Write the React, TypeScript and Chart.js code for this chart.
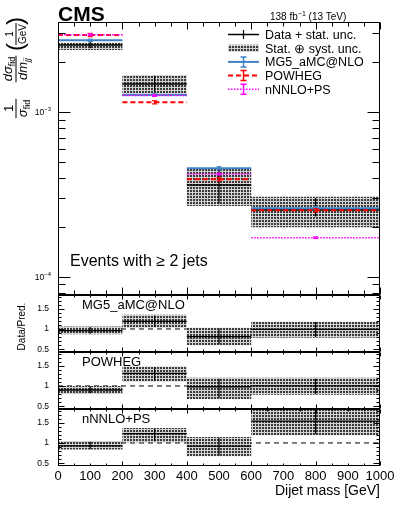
import React, { useEffect, useRef } from 'react';
import { Chart, registerables } from 'chart.js';

Chart.register(...registerables);

// ---------------- data ----------------
const binEdges = [0, 200, 400, 600, 1000];
const binCenters = [100, 300, 500, 800];

const mainYMin = 7.74e-5;
const mainYMax = 3.52e-3;
const mainDecadeLabels = [1e-4, 1e-3];
const ratioMin = 0.43;
const ratioMax = 1.84;
const ratioRefValue = 1;

const dataXsec = [2.55e-3, 1.479e-3, 3.6e-4, 2.54e-4];
const dataStatLow = [2.44e-3, 1.32e-3, 2.78e-4, 2.32e-4];
const dataStatHigh = [2.68e-3, 1.66e-3, 4.65e-4, 3.0e-4];
const totalUncLow = [2.378e-3, 1.25e-3, 2.69e-4, 1.995e-4];
const totalUncHigh = [2.636e-3, 1.677e-3, 4.57e-4, 3.06e-4];

const mg5Xsec = [2.725e-3, 1.268e-3, 4.55e-4, 2.6e-4];
const mg5Low = [2.68e-3, 1.25e-3, 4.46e-4, 2.55e-4];
const mg5High = [2.77e-3, 1.29e-3, 4.65e-4, 2.66e-4];
const powhegXsec = [2.935e-3, 1.145e-3, 3.9e-4, 2.53e-4];
const powhegLow = [2.87e-3, 1.12e-3, 3.81e-4, 2.47e-4];
const powhegHigh = [3.0e-3, 1.17e-3, 3.99e-4, 2.59e-4];
const nnloXsec = [2.95e-3, 1.259e-3, 4.2e-4, 1.725e-4];
const nnloLow = [2.92e-3, 1.245e-3, 4.15e-4, 1.705e-4];
const nnloHigh = [2.98e-3, 1.273e-3, 4.25e-4, 1.745e-4];

const ratioMg5 = [0.96, 1.19, 0.81, 0.99];
const ratioMg5BandLow = [0.87, 1.03, 0.6, 0.78];
const ratioMg5BandHigh = [1.06, 1.35, 1.03, 1.18];
const ratioMg5StatLow = [0.88, 1.05, 0.62, 0.8];
const ratioMg5StatHigh = [1.05, 1.33, 1.01, 1.17];

const ratioPowheg = [0.9, 1.31, 0.98, 1.0];
const ratioPowhegBandLow = [0.8, 1.11, 0.68, 0.78];
const ratioPowhegBandHigh = [1.0, 1.48, 1.2, 1.2];
const ratioPowhegStatLow = [0.82, 1.13, 0.7, 0.8];
const ratioPowhegStatHigh = [0.99, 1.46, 1.18, 1.18];

const ratioNnlo = [0.93, 1.23, 0.92, 1.54];
const ratioNnloBandLow = [0.84, 1.02, 0.67, 1.19];
const ratioNnloBandHigh = [1.05, 1.37, 1.15, 1.86];
const ratioNnloStatLow = [0.85, 1.04, 0.69, 1.22];
const ratioNnloStatHigh = [1.03, 1.35, 1.13, 1.84];

const legendLabels = ['Data + stat. unc.', 'Stat. \u2295 syst. unc.', 'MG5_aMC@NLO', 'POWHEG', 'nNNLO+PS'];
const ratioPanelLabels = ['MG5_aMC@NLO', 'POWHEG', 'nNNLO+PS'];

// ---------------- style ----------------
const FONT = 'Liberation Sans, Arial, Helvetica, sans-serif';
const BLUE = '#3f83c6';
const RED = '#ff0000';
const MAGENTA = '#ff00ff';

// ---------------- helpers ----------------
const segs = (vals: number[]) =>
  vals.flatMap((v, i) => [
    { x: binEdges[i], y: v },
    { x: binEdges[i + 1], y: v },
    { x: binEdges[i + 1], y: null as any },
  ]);
const bars = (lo: number[], hi: number[]) =>
  lo.flatMap((l, i) => [
    { x: binCenters[i], y: l },
    { x: binCenters[i], y: hi[i] },
    { x: binCenters[i], y: null as any },
  ]);
const steps = (vals: number[]) => [
  ...vals.map((v, i) => ({ x: binEdges[i], y: v })),
  { x: binEdges[vals.length], y: vals[vals.length - 1] },
];

function makePattern(ctx: CanvasRenderingContext2D) {
  const c = document.createElement('canvas');
  c.width = 3;
  c.height = 3;
  const g = c.getContext('2d')!;
  g.fillStyle = '#d2d2d2';
  g.fillRect(0, 0, 3, 3);
  g.fillStyle = '#3a3a3a';
  g.fillRect(1, 1, 2, 2);
  return ctx.createPattern(c, 'repeat') as CanvasPattern;
}

type Run = { t: string; f: string; dy?: number };
function runsWidth(ctx: CanvasRenderingContext2D, runs: Run[]) {
  let w = 0;
  for (const r of runs) {
    ctx.font = r.f;
    w += ctx.measureText(r.t).width;
  }
  return w;
}
function drawRuns(ctx: CanvasRenderingContext2D, runs: Run[], x: number, y: number) {
  let cx = x;
  for (const r of runs) {
    ctx.font = r.f;
    ctx.fillText(r.t, cx, y + (r.dy || 0));
    cx += ctx.measureText(r.t).width;
  }
}
function drawFrac(ctx: CanvasRenderingContext2D, uc: number, num: Run[], den: Run[], numBase: number, denBase: number) {
  const wn = runsWidth(ctx, num);
  const wd = runsWidth(ctx, den);
  const w = Math.max(wn, wd) + 2;
  drawRuns(ctx, num, uc - wn / 2, numBase);
  drawRuns(ctx, den, uc - wd / 2, denBase);
  ctx.fillRect(uc - w / 2, -0.5, w, 1);
}

const overlayPlugin = (pattern: () => CanvasPattern) => ({
  id: 'cmsOverlay',
  afterDraw(chart: any) {
    const ctx: CanvasRenderingContext2D = chart.ctx;
    const xs = chart.scales.x;
    const main = chart.scales.y;
    const ratios = [chart.scales.r1, chart.scales.r2, chart.scales.r3];
    const L = Math.round(xs.left) + 0.5;
    const R = Math.round(xs.right) - 0.5;
    ctx.save();
    ctx.strokeStyle = '#000';
    ctx.fillStyle = '#000';
    ctx.lineWidth = 1;
    ctx.setLineDash([]);

    [main, ...ratios].forEach((s: any, pi: number) => {
      const T = Math.round(s.top) + 0.5;
      const B = Math.round(s.bottom) - 0.5;
      ctx.strokeRect(L, T, R - L, B - T);
      const isMain = pi === 0;
      const xMaj = isMain ? 7 : 4;
      const xMinL = isMain ? 4 : 2;
      ctx.beginPath();
      for (let v = 0; v <= 1000; v += 50) {
        const px = Math.round(xs.getPixelForValue(v)) + 0.5;
        const len = v % 200 === 0 ? xMaj : xMinL;
        ctx.moveTo(px, T);
        ctx.lineTo(px, T + len);
        ctx.moveTo(px, B);
        ctx.lineTo(px, B - len);
      }
      if (isMain) {
        for (let e = -5; e <= -2; e++) {
          for (let m = 1; m <= 9; m++) {
            const v = m * Math.pow(10, e);
            if (v < s.min || v > s.max) continue;
            const py = Math.round(s.getPixelForValue(v)) + 0.5;
            const len = m === 1 ? 12 : 7;
            ctx.moveTo(L, py);
            ctx.lineTo(L + len, py);
            ctx.moveTo(R, py);
            ctx.lineTo(R - len, py);
          }
        }
      } else {
        for (let k = 0; k <= 20; k++) {
          const v = k / 10;
          if (v < s.min || v > s.max) continue;
          const py = Math.round(s.getPixelForValue(v)) + 0.5;
          const len = k % 5 === 0 ? 6 : 3;
          ctx.moveTo(L, py);
          ctx.lineTo(L + len, py);
          ctx.moveTo(R, py);
          ctx.lineTo(R - len, py);
        }
      }
      ctx.stroke();
    });

    // main y tick labels 10^n
    ctx.textBaseline = 'alphabetic';
    ctx.textAlign = 'left';
    for (const v of mainDecadeLabels) {
      const py = main.getPixelForValue(v);
      const exp = '\u2212' + String(-Math.round(Math.log10(v)));
      const runs: Run[] = [
        { t: '10', f: `8.5px ${FONT}` },
        { t: exp, f: `6px ${FONT}`, dy: -4 },
      ];
      const w = runsWidth(ctx, runs);
      drawRuns(ctx, runs, 51 - w, py + 3);
    }

    // CMS label
    ctx.font = `bold 21px ${FONT}`;
    ctx.fillText('CMS', 58, 20.5);
    // lumi
    drawRuns(ctx, [
      { t: '138 fb', f: `10px ${FONT}` },
      { t: '\u22121', f: `7px ${FONT}`, dy: -4 },
      { t: ' (13 TeV)', f: `10px ${FONT}` },
    ], 270, 19.5);

    // Events text
    ctx.font = `16px ${FONT}`;
    ctx.fillText('Events with \u2265 2 jets', 70, 266);

    // ratio panel labels
    ctx.font = `13px ${FONT}`;
    ratios.forEach((s: any, i: number) => {
      ctx.fillText(ratioPanelLabels[i], 82, s.top + 13.5);
    });

    // legend
    const lx0 = 228;
    const lx1 = 259;
    const lxc = (lx0 + lx1) / 2;
    const rowY = (i: number) => 34.5 + i * 13.7;
    legendLabels.forEach((t, i) => {
      ctx.fillStyle = '#000';
      ctx.font = `12.5px ${FONT}`;
      ctx.fillText(t, 265, rowY(i) + 4.5);
    });
    // data
    let y0 = rowY(0);
    ctx.strokeStyle = '#000';
    ctx.lineWidth = 1.5;
    ctx.beginPath();
    ctx.moveTo(lx0, y0);
    ctx.lineTo(lx1, y0);
    ctx.stroke();
    ctx.lineWidth = 1.2;
    ctx.beginPath();
    ctx.moveTo(lxc, y0 - 4.5);
    ctx.lineTo(lxc, y0 + 4.5);
    ctx.stroke();
    // band
    y0 = rowY(1);
    ctx.fillStyle = pattern();
    ctx.fillRect(lx0, y0 - 3.5, lx1 - lx0, 7);
    // predictions
    const predStyle: [string, number, number[]][] = [
      [BLUE, 2, []],
      [RED, 2, [5, 3]],
      [MAGENTA, 1.5, [1.5, 1.5]],
    ];
    predStyle.forEach(([col, lw, dash], k) => {
      const yy = rowY(2 + k);
      ctx.strokeStyle = col;
      ctx.lineWidth = lw;
      ctx.setLineDash(dash);
      ctx.beginPath();
      ctx.moveTo(lx0, yy);
      ctx.lineTo(lx1, yy);
      ctx.stroke();
      ctx.setLineDash([]);
      ctx.lineWidth = 1.5;
      ctx.beginPath();
      ctx.moveTo(lxc, yy - 5);
      ctx.lineTo(lxc, yy + 5);
      ctx.moveTo(lxc - 3, yy - 5);
      ctx.lineTo(lxc + 3, yy - 5);
      ctx.moveTo(lxc - 3, yy + 5);
      ctx.lineTo(lxc + 3, yy + 5);
      ctx.stroke();
    });

    // y title (rotated)
    ctx.fillStyle = '#000';
    ctx.save();
    ctx.translate(16, 120);
    ctx.rotate(-Math.PI / 2);
    ctx.textAlign = 'left';
    ctx.textBaseline = 'alphabetic';
    const big = `13px ${FONT}`;
    const it = `italic 13px ${FONT}`;
    const sub = `9px ${FONT}`;
    const subIt = `italic 9px ${FONT}`;
    drawFrac(ctx, 11.5, [{ t: '1', f: big }], [{ t: '\u03c3', f: it }, { t: 'fid', f: sub, dy: 3 }], -3, 11);
    drawFrac(
      ctx,
      51,
      [{ t: 'd\u03c3', f: it }, { t: 'fid', f: sub, dy: 3 }],
      [{ t: 'dm', f: it }, { t: 'jj', f: subIt, dy: 3 }],
      -4,
      11,
    );
    ctx.font = `24px ${FONT}`;
    ctx.fillText('(', 69, 7);
    drawFrac(ctx, 86, [{ t: '1', f: `10px ${FONT}` }], [{ t: 'GeV', f: `10px ${FONT}` }], -3, 10);
    ctx.font = `24px ${FONT}`;
    ctx.fillText(')', 95, 7);
    ctx.restore();

    // Data/Pred. (rotated)
    ctx.save();
    ctx.translate(22.5, 326.5);
    ctx.rotate(-Math.PI / 2);
    ctx.textAlign = 'center';
    ctx.textBaseline = 'middle';
    ctx.font = `10px ${FONT}`;
    ctx.fillText('Data/Pred.', 0, 0);
    ctx.restore();

    ctx.restore();
  },
});

export default function App() {
  const canvasRef = useRef<HTMLCanvasElement | null>(null);

  useEffect(() => {
    const canvas = canvasRef.current;
    if (!canvas) return;
    const ctx = canvas.getContext('2d')!;
    const pattern = makePattern(ctx);
    Chart.defaults.font.family = FONT;
    Chart.defaults.color = '#000';

    const common = { xAxisID: 'x', pointRadius: 0, tension: 0, spanGaps: false };
    const seg = (vals: number[], yAxisID: string, color: string, width: number, dash: number[], order: number) => ({
      ...common,
      yAxisID,
      data: segs(vals),
      borderColor: color,
      borderWidth: width,
      borderDash: dash,
      fill: false,
      order,
    });
    const err = (lo: number[], hi: number[], yAxisID: string, color: string, width: number, caps: boolean, order: number) => ({
      ...common,
      yAxisID,
      data: bars(lo, hi),
      borderColor: color,
      borderWidth: width,
      fill: false,
      pointStyle: 'line',
      pointRadius: caps ? 2.5 : 0,
      pointBorderColor: color,
      pointBorderWidth: 1.2,
      order,
    });
    const band = (lo: number[], hi: number[], yAxisID: string, order: number) => [
      { ...common, yAxisID, data: steps(lo), stepped: true, borderColor: 'transparent', borderWidth: 0, fill: false, order },
      {
        ...common,
        yAxisID,
        data: steps(hi),
        stepped: true,
        borderColor: 'transparent',
        borderWidth: 0,
        fill: '-1',
        backgroundColor: pattern,
        order,
      },
    ];

    const datasets: any[] = [];
    // main panel
    datasets.push(...band(totalUncLow, totalUncHigh, 'y', 20));
    datasets.push(seg(dataXsec, 'y', '#000', 1.5, [], 8));
    datasets.push(err(dataStatLow, dataStatHigh, 'y', '#000', 1.2, false, 8));
    datasets.push(seg(mg5Xsec, 'y', BLUE, 2, [], 6));
    datasets.push(err(mg5Low, mg5High, 'y', BLUE, 1.2, true, 6));
    datasets.push(seg(powhegXsec, 'y', RED, 2, [5, 3], 5));
    datasets.push(err(powhegLow, powhegHigh, 'y', RED, 1.2, true, 5));
    datasets.push(seg(nnloXsec, 'y', MAGENTA, 1.5, [1.5, 1.5], 4));
    datasets.push(err(nnloLow, nnloHigh, 'y', MAGENTA, 1, true, 4));

    const ratioSets: [string, number[], number[], number[], number[], number[]][] = [
      ['r1', ratioMg5, ratioMg5BandLow, ratioMg5BandHigh, ratioMg5StatLow, ratioMg5StatHigh],
      ['r2', ratioPowheg, ratioPowhegBandLow, ratioPowhegBandHigh, ratioPowhegStatLow, ratioPowhegStatHigh],
      ['r3', ratioNnlo, ratioNnloBandLow, ratioNnloBandHigh, ratioNnloStatLow, ratioNnloStatHigh],
    ];
    for (const [id, val, bl, bh, sl, sh] of ratioSets) {
      datasets.push({
        ...common,
        yAxisID: id,
        data: [
          { x: binEdges[0], y: ratioRefValue },
          { x: binEdges[binEdges.length - 1], y: ratioRefValue },
        ],
        borderColor: '#000',
        borderWidth: 1,
        borderDash: [5, 4],
        fill: false,
        order: 22,
      });
      datasets.push(...band(bl, bh, id, 20));
      datasets.push(seg(val, id, '#000', 1.3, [], 8));
      datasets.push(err(sl, sh, id, '#000', 1.2, false, 8));
    }

    const ratioAxis = (weight: number) => ({
      type: 'linear',
      position: 'left',
      stack: 'panels',
      stackWeight: 57,
      weight,
      min: ratioMin,
      max: ratioMax,
      grid: { display: false, drawTicks: false },
      border: { display: false },
      ticks: {
        stepSize: 0.5,
        includeBounds: false,
        autoSkip: false,
        padding: 9,
        color: '#000',
        font: { size: 8.5, family: FONT },
        callback: (v: number) => (Math.abs(v * 2 - Math.round(v * 2)) < 1e-6 ? String(v) : ''),
      },
      afterFit: (s: any) => {
        s.width = 58;
      },
    });

    const chart = new Chart(canvas, {
      type: 'line',
      data: { datasets },
      options: {
        responsive: false,
        animation: false,
        events: [],
        layout: { padding: { left: 0, right: 19, top: 22, bottom: 0 } },
        plugins: {
          legend: { display: false },
          tooltip: { enabled: false },
          filler: { propagate: false },
        },
        scales: {
          x: {
            type: 'linear',
            position: 'bottom',
            min: 0,
            max: 1000,
            grid: { display: false, drawTicks: false },
            border: { display: false },
            ticks: {
              stepSize: 100,
              autoSkip: false,
              maxRotation: 0,
              minRotation: 0,
              padding: 3,
              color: '#000',
              font: { size: 13, family: FONT },
              callback: (v: number) => String(v),
            },
            title: {
              display: true,
              text: 'Dijet mass [GeV]',
              align: 'end',
              color: '#000',
              font: { size: 14, family: FONT },
              padding: { top: 0, bottom: 18 },
            },
            afterFit: (s: any) => {
              s.height = 52;
            },
          },
          y: {
            type: 'logarithmic',
            position: 'left',
            stack: 'panels',
            stackWeight: 273,
            weight: 4,
            min: mainYMin,
            max: mainYMax,
            grid: { display: false, drawTicks: false },
            border: { display: false },
            ticks: { display: false },
            afterFit: (s: any) => {
              s.width = 58;
            },
          },
          r1: ratioAxis(3),
          r2: ratioAxis(2),
          r3: ratioAxis(1),
        } as any,
      },
      plugins: [overlayPlugin(() => pattern)],
    } as any);

    return () => chart.destroy();
  }, []);

  return (
    <div style={{ position: 'absolute', left: 0, top: 0, width: 399, height: 518, background: '#fff' }}>
      <canvas ref={canvasRef} width={399} height={518} style={{ display: 'block' }} />
    </div>
  );
}
